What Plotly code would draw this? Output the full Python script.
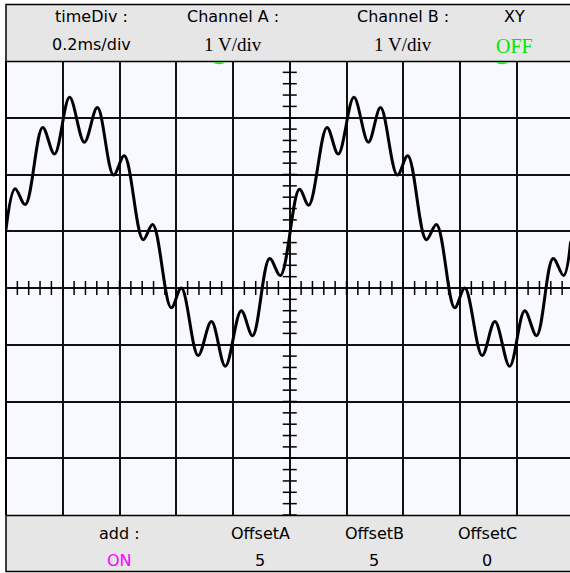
import numpy as np
import plotly.graph_objects as go

# ---- data (time in ms, voltage in V) ----
time_ms = [0.000, 0.032, 0.068, 0.129, 0.171, 0.224, 0.276, 0.322, 0.379, 0.417,
           0.483, 0.517, 0.582, 0.618, 0.677, 0.724, 0.773, 0.829, 0.869, 0.929,
           0.967, 1.034, 1.067, 1.131, 1.171, 1.226, 1.277, 1.320, 1.379, 1.416,
           1.481, 1.517, 1.581, 1.617, 1.678, 1.723, 1.775, 1.828, 1.870, 1.928,
           1.965, 1.990]
voltage = [1.03, 1.75, 1.47, 2.83, 2.36, 3.36, 2.57, 3.18, 1.99, 2.33,
           0.85, 1.12, -0.35, 0.00, -1.19, -0.59, -1.38, -0.40, -0.84, 0.52,
           0.22, 1.74, 1.46, 2.83, 2.36, 3.36, 2.57, 3.18, 1.99, 2.33,
           0.85, 1.12, -0.35, 0.00, -1.19, -0.59, -1.38, -0.40, -0.84, 0.52,
           0.22, 0.82]

time_div_ms = 0.2      # 0.2 ms/div
volt_div = 1.0         # 1 V/div
n_xdiv = 10
n_ydiv = 8

header_labels = ["timeDiv :", "Channel A :", "Channel B :", "XY"]
header_values = ["0.2ms/div", "1 V/div", "1 V/div", "OFF"]
footer_labels = ["add :", "OffsetA", "OffsetB", "OffsetC"]
footer_values = ["ON", "5", "5", "0"]

# ---- geometry (pixels) ----
W, H = 570, 573
L, R, T, B = 6, 0, 61, 58
PW, PH = W - L - R, H - T - B
div_px = PH / n_ydiv
x_span_div = PW / div_px


def px(xp):
    return (xp - L) / PW


def py(yp):
    return (H - B - yp) / PH


fig = go.Figure()

# center-axis minor ticks (every 1/5 division)
hx = np.arange(0, n_xdiv * 5 + 1) * time_div_ms / 5
fig.add_trace(go.Scatter(x=hx, y=np.zeros_like(hx), mode="markers",
                         marker=dict(symbol="line-ns", size=10,
                                     line=dict(color="black", width=1.5)),
                         hoverinfo="skip", showlegend=False))
vy = np.arange(-n_ydiv // 2 * 5, n_ydiv // 2 * 5 + 1) * volt_div / 5
fig.add_trace(go.Scatter(x=np.full_like(vy, n_xdiv / 2 * time_div_ms), y=vy,
                         mode="markers",
                         marker=dict(symbol="line-ew", size=10,
                                     line=dict(color="black", width=1.5)),
                         hoverinfo="skip", showlegend=False))

# waveform
fig.add_trace(go.Scatter(x=time_ms, y=voltage, mode="lines",
                         line=dict(color="black", width=3, shape="spline",
                                   smoothing=1.0),
                         showlegend=False))

shapes = []
# header panel
shapes.append(dict(type="rect", xref="paper", yref="paper",
                   x0=px(6), x1=px(580), y0=py(61.5), y1=py(4.5),
                   fillcolor="#e6e6e6", line=dict(color="black", width=1.5)))
# footer panel
shapes.append(dict(type="rect", xref="paper", yref="paper",
                   x0=px(6), x1=px(580), y0=py(571.5), y1=py(515.5),
                   fillcolor="#e6e6e6", line=dict(color="black", width=1.5)))
# left border of screen
shapes.append(dict(type="line", xref="paper", yref="paper",
                   x0=0, x1=0, y0=0, y1=1, line=dict(color="black", width=2)))
# green indicator marks peeking out below the header
for xc in (219, 502):
    path = (f"M {px(xc - 7):.5f},{py(62.2):.5f} "
            f"Q {px(xc):.5f},{py(66.5):.5f} {px(xc + 7):.5f},{py(62.2):.5f} Z")
    shapes.append(dict(type="path", xref="paper", yref="paper", path=path,
                       fillcolor="#22e022", line=dict(width=0)))

ann = []
sans = "DejaVu Sans"
serif = "Liberation Serif"
hx_pos = [91, 233, 403, 514]
for i, (lab, val) in enumerate(zip(header_labels, header_values)):
    ann.append(dict(text=lab, x=px(hx_pos[i]), y=py(16), xref="paper", yref="paper",
                    showarrow=False, xanchor="center", yanchor="middle",
                    font=dict(family=sans, size=16, color="black")))
    if i == 0:
        f = dict(family=sans, size=16, color="black")
        yv = 44.5
    elif i == 3:
        f = dict(family=serif, size=20, color="#00e600")
        yv = 46
    else:
        f = dict(family=serif, size=19, color="black")
        yv = 44.5
    ann.append(dict(text=val, x=px(hx_pos[i]), y=py(yv), xref="paper", yref="paper",
                    showarrow=False, xanchor="center", yanchor="middle", font=f))

fx_pos = [119, 260, 374, 487]
for i, (lab, val) in enumerate(zip(footer_labels, footer_values)):
    ann.append(dict(text=lab, x=px(fx_pos[i]), y=py(533), xref="paper", yref="paper",
                    showarrow=False, xanchor="center", yanchor="middle",
                    font=dict(family=sans, size=16, color="black")))
    ann.append(dict(text=val, x=px(fx_pos[i]), y=py(560), xref="paper", yref="paper",
                    showarrow=False, xanchor="center", yanchor="middle",
                    font=dict(family=sans, size=16,
                              color="#ff00ff" if i == 0 else "black")))

fig.update_layout(
    width=W, height=H,
    margin=dict(l=L, r=R, t=T, b=B, pad=0),
    paper_bgcolor="white",
    plot_bgcolor="#f8f8ff",
    shapes=shapes,
    annotations=ann,
    showlegend=False,
    xaxis=dict(range=[0, x_span_div * time_div_ms], tick0=0, dtick=time_div_ms,
               showgrid=True, gridcolor="#111111", gridwidth=1.6,
               showticklabels=False, ticks="", zeroline=False, showline=False,
               fixedrange=True),
    yaxis=dict(range=[-n_ydiv / 2 * volt_div, n_ydiv / 2 * volt_div], tick0=0,
               dtick=volt_div, showgrid=True, gridcolor="#111111", gridwidth=1.6,
               showticklabels=False, ticks="", zeroline=False, showline=False,
               fixedrange=True),
)

fig.write_html("out.html", config={"displayModeBar": False},
               post_script="document.body.style.margin='0';"
                           "document.body.style.overflow='hidden';")
